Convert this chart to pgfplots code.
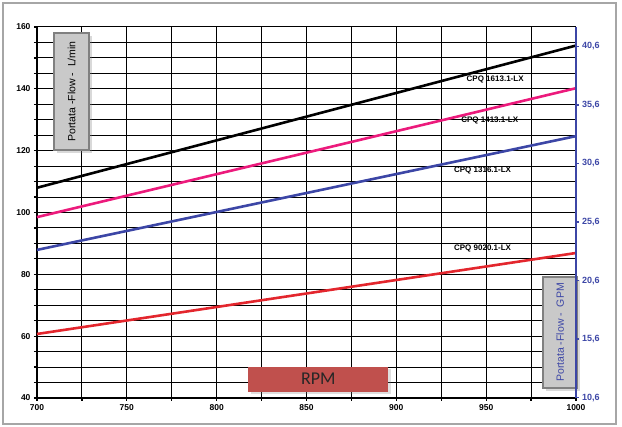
\documentclass[border=0pt]{standalone}
\usepackage{pgfplots}
\pgfplotsset{compat=1.18}
\usepackage{fontspec}
\setmainfont{Liberation Sans}
\newfontfamily\carlito{Carlito}
\usetikzlibrary{shadows}
\definecolor{cblue}{HTML}{3C46A6}
\definecolor{cpink}{HTML}{EC1A7C}
\definecolor{cred}{HTML}{E3262D}
\definecolor{boxgray}{HTML}{C9C9C9}
\definecolor{rpmred}{HTML}{C0504D}
\begin{document}
\begin{tikzpicture}[x=1pt,y=1pt]
\path[use as bounding box] (-37,-29) rectangle (585,398);
\draw[black!35, line width=1.2pt] (-34,-26) rectangle (579,395);
\begin{axis}[at={(0,0)}, anchor=south west, scale only axis,
  width=539pt, height=371pt,
  xmin=700, xmax=1000, ymin=40, ymax=160,
  xtick={700,750,...,1000}, minor xtick={725,775,...,975},
  ytick={40,60,...,160}, minor ytick={45,50,55,65,70,75,85,90,95,105,110,115,125,130,135,145,150,155},
  grid=both,
  major grid style={black, line width=1pt},
  minor grid style={black, line width=1pt},
  axis x line*=bottom, axis y line*=left,
  axis line style={line width=2.8pt, -},
  tick align=outside, major tick length=3pt, minor tick length=3pt,
  tick style={black, line width=1.2pt},
  /pgf/number format/assume math mode=true,
  /pgf/number format/1000 sep={},
  xticklabel={\textbf{\pgfmathprintnumber{\tick}}},
  yticklabel={\textbf{\pgfmathprintnumber{\tick}}},
  ticklabel style={font=\fontsize{8.5}{9}\selectfont},
  clip=false]
\addplot[black, line width=2.6pt] coordinates {(700,108) (1000,154)};
\addplot[cpink, line width=2.6pt] coordinates {(700,98.5) (1000,140.2)};
\addplot[cblue, line width=2.6pt] coordinates {(700,87.9) (1000,124.7)};
\addplot[cred, line width=2.6pt] coordinates {(700,60.7) (1000,86.9)};
\node[font=\bfseries\fontsize{8}{9}\selectfont] at (axis cs:955,142.9) {CPQ 1613.1-LX};
\node[font=\bfseries\fontsize{8}{9}\selectfont] at (axis cs:952,129.9) {CPQ 1413.1-LX};
\node[font=\bfseries\fontsize{8}{9}\selectfont] at (axis cs:948,113.7) {CPQ 1316.1-LX};
\node[font=\bfseries\fontsize{8}{9}\selectfont] at (axis cs:948,88.2) {CPQ 9020.1-LX};
\end{axis}
\node[draw=black!50, line width=1.2pt, fill=boxgray, minimum width=35pt, minimum height=117pt, inner sep=0pt, drop shadow={opacity=0.3}] at (34.5,306.5) {};
\node[rotate=90, font=\fontsize{10.5}{12}\selectfont] at (34.5,306.5) {Portata -Flow -\ \ L/min};
\node[draw=black!50, line width=1.2pt, fill=boxgray, minimum width=34pt, minimum height=111pt, inner sep=0pt, drop shadow={opacity=0.3}] at (523,65.5) {};
\node[rotate=90, font=\fontsize{10.5}{12}\selectfont, text=cblue] at (523,65.5) {Portata -Flow -\ \ GPM};
\node[fill=rpmred, minimum width=140pt, minimum height=25pt, inner sep=0pt, drop shadow={opacity=0.25}] at (281.3,18.8) {};
\node[font=\carlito\fontsize{18}{20}\selectfont, text=black!85] at (281.3,18.8) {RPM};
\begin{axis}[at={(0,0)}, anchor=south west, scale only axis,
  width=539pt, height=371pt,
  xmin=700, xmax=1000, ymin=10.5671, ymax=42.2684,
  axis x line=none, axis y line*=right,
  axis line style={cblue, line width=2.8pt, -},
  ytick={10.6,15.6,20.6,25.6,30.6,35.6,40.6},
  yticklabels={\textbf{10,6},\textbf{15,6},\textbf{20,6},\textbf{25,6},\textbf{30,6},\textbf{35,6},\textbf{40,6}},
  tick align=outside, major tick length=2.5pt,
  tick style={cblue, line width=1.5pt},
  yticklabel style={font=\fontsize{9}{10}\selectfont, text=cblue}]
\addplot[draw=none] coordinates {(700,20) (1000,30)};
\end{axis}
\end{tikzpicture}
\end{document}
